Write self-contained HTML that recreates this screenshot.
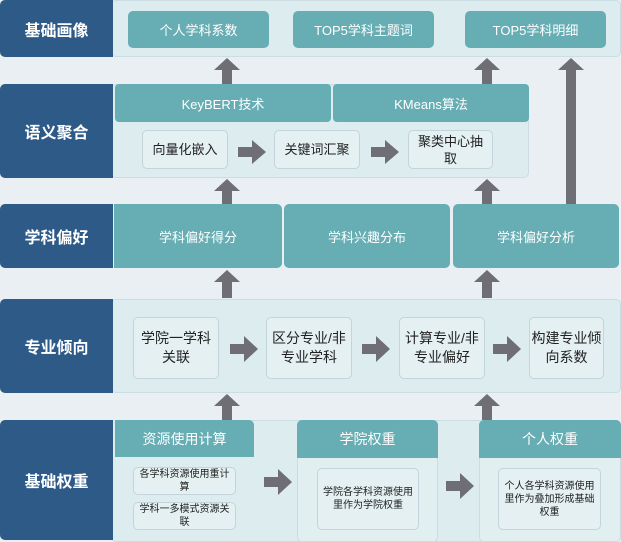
<!DOCTYPE html>
<html><head><meta charset="utf-8"><style>
*{margin:0;padding:0;box-sizing:border-box}
body{width:621px;height:540px;background:#e9eff3;position:relative;overflow:hidden;font-family:"Liberation Sans","Noto Sans CJK SC",sans-serif}
.a{position:absolute;display:flex;align-items:center;justify-content:center;text-align:center}
.lab{background:#2e5a88;color:#fff;font-size:16px;font-weight:bold;border-radius:5px 0 0 5px;left:0;width:113px}
.pan{background:#dcecef;border:1px solid #c9dde2;border-radius:5px}
.t{background:#67adb4;color:#fff;font-size:13px;border-radius:5px}
.w{background:#e4f0f2;border:1px solid #c3d5da;border-radius:5px;color:#222;font-size:13px;line-height:17px}
.s{font-size:10px;line-height:13px}
svg{position:absolute;left:0;top:0}
</style></head><body>
<div class="a pan" style="left:111px;top:0;width:510px;height:57px"></div>
<div class="a lab" style="top:0;height:57px">基础画像</div>
<div class="a t" style="left:128px;top:11px;width:141px;height:37px">个人学科系数</div>
<div class="a t" style="left:293px;top:11px;width:141px;height:37px">TOP5学科主题词</div>
<div class="a t" style="left:465px;top:11px;width:141px;height:37px">TOP5学科明细</div>
<div class="a pan" style="left:111px;top:84px;width:418px;height:94px"></div>
<div class="a lab" style="top:84px;height:94px">语义聚合</div>
<div class="a t" style="left:115px;top:84px;width:216px;height:38px;border-radius:4px">KeyBERT技术</div>
<div class="a t" style="left:333px;top:84px;width:196px;height:38px;border-radius:4px">KMeans算法</div>
<div class="a w" style="left:142px;top:130px;width:86px;height:39px">向量化嵌入</div>
<div class="a w" style="left:274px;top:130px;width:86px;height:39px">关键词汇聚</div>
<div class="a w" style="left:408px;top:130px;width:85px;height:39px">聚类中心抽<br>取</div>
<div class="a lab" style="top:204px;height:64px">学科偏好</div>
<div class="a t" style="left:114px;top:204px;width:168px;height:64px;border-radius:0 5px 5px 0">学科偏好得分</div>
<div class="a t" style="left:284px;top:204px;width:166px;height:64px">学科兴趣分布</div>
<div class="a t" style="left:453px;top:204px;width:166px;height:64px">学科偏好分析</div>
<div class="a pan" style="left:111px;top:299px;width:510px;height:94px"></div>
<div class="a lab" style="top:299px;height:94px">专业倾向</div>
<div class="a w" style="left:133px;top:317px;width:86px;height:62px;font-size:14px;line-height:19px">学院一学科<br>关联</div>
<div class="a w" style="left:266px;top:317px;width:86px;height:62px;font-size:14px;line-height:19px">区分专业/非<br>专业学科</div>
<div class="a w" style="left:399px;top:317px;width:86px;height:62px;font-size:14px;line-height:19px">计算专业/非<br>专业偏好</div>
<div class="a w" style="left:529px;top:317px;width:75px;height:62px;font-size:14px;line-height:19px">构建专业倾<br>向系数</div>
<div class="a pan" style="left:111px;top:420px;width:510px;height:122px"></div>
<div class="a lab" style="top:420px;height:120px">基础权重</div>
<div class="a" style="left:297px;top:420px;width:141px;height:122px;background:#e2eff1;border:1px solid #c9dde2;border-radius:5px"></div>
<div class="a" style="left:479px;top:420px;width:142px;height:122px;background:#e2eff1;border:1px solid #c9dde2;border-radius:5px"></div>
<div class="a t" style="left:115px;top:420px;width:139px;height:37px;font-size:14px;border-radius:0 5px 0 0">资源使用计算</div>
<div class="a t" style="left:297px;top:420px;width:141px;height:38px;font-size:14px;border-radius:5px 5px 0 0">学院权重</div>
<div class="a t" style="left:479px;top:420px;width:142px;height:38px;font-size:14px;border-radius:5px 5px 0 0">个人权重</div>
<div class="a w s" style="left:133px;top:467px;width:103px;height:28px">各学科资源使用重计<br>算</div>
<div class="a w s" style="left:133px;top:502px;width:103px;height:28px">学科一多模式资源关<br>联</div>
<div class="a w s" style="left:317px;top:468px;width:102px;height:62px">学院各学科资源使用<br>里作为学院权重</div>
<div class="a w s" style="left:498px;top:468px;width:103px;height:62px">个人各学科资源使用<br>里作为叠加形成基础<br>权重</div>
<svg width="621" height="540" viewBox="0 0 621 540">
<g fill="#6e6e74">
<polygon points="227,58 240,70 232,70 232,84 222,84 222,70 214,70"/>
<polygon points="487,58 500,70 492,70 492,84 482,84 482,70 474,70"/>
<polygon points="571,58 584,70 576,70 576,204 566,204 566,70 558,70"/>
<polygon points="227,179 240,191 232,191 232,204 222,204 222,191 214,191"/>
<polygon points="487,179 500,191 492,191 492,204 482,204 482,191 474,191"/>
<polygon points="227,270 240,282 232,282 232,298 222,298 222,282 214,282"/>
<polygon points="487,270 500,282 492,282 492,298 482,298 482,282 474,282"/>
<polygon points="227,394 240,406 232,406 232,420 222,420 222,406 214,406"/>
<polygon points="487,394 500,406 492,406 492,420 482,420 482,406 474,406"/>
<polygon points="238,147 252,147 252,140 266,152 252,164 252,157 238,157"/>
<polygon points="371,147 385,147 385,140 399,152 385,164 385,157 371,157"/>
<polygon points="230,344 244,344 244,336 258,349 244,362 244,354 230,354"/>
<polygon points="362,344 376,344 376,336 390,349 376,362 376,354 362,354"/>
<polygon points="493,344 507,344 507,336 521,349 507,362 507,354 493,354"/>
<polygon points="264,477 278,477 278,469 292,482 278,495 278,487 264,487"/>
<polygon points="446,481 460,481 460,473 474,486 460,499 460,491 446,491"/>
</g></svg>
</body></html>
